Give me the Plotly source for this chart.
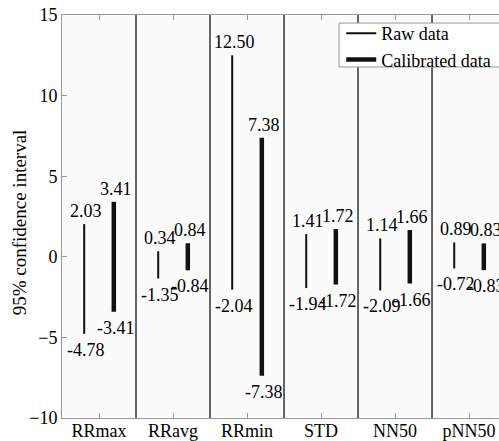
import plotly.graph_objects as go

categories = ["RRmax", "RRavg", "RRmin", "STD", "NN50", "pNN50"]
raw_upper = [2.03, 0.34, 12.50, 1.41, 1.14, 0.89]
raw_lower = [-4.78, -1.35, -2.04, -1.94, -2.09, -0.72]
cal_upper = [3.41, 0.84, 7.38, 1.72, 1.66, 0.83]
cal_lower = [-3.41, -0.84, -7.38, -1.72, -1.66, -0.83]
y_ticks = [-10, -5, 0, 5, 10, 15]
y_title = "95% confidence interval"

FONT = "Liberation Serif"
OFF = 0.2
pos = list(range(1, len(categories) + 1))


def seg(offset, lo, hi):
    xs, ys = [], []
    for p, a, b in zip(pos, lo, hi):
        xs += [p + offset, p + offset, None]
        ys += [a, b, None]
    return xs, ys


fig = go.Figure()
xr, yr = seg(-OFF, raw_lower, raw_upper)
xc, yc = seg(OFF, cal_lower, cal_upper)
fig.add_trace(go.Scatter(x=xr, y=yr, mode="lines", name="Raw data",
                         line=dict(color="#111111", width=2)))
fig.add_trace(go.Scatter(x=xc, y=yc, mode="lines", name="Calibrated data",
                         line=dict(color="#111111", width=4.5)))

ann = []
for offset, lo, hi in ((-OFF, raw_lower, raw_upper), (OFF, cal_lower, cal_upper)):
    for p, a, b in zip(pos, lo, hi):
        ann.append(dict(x=p + offset, y=b, text=f"{b:.2f}", showarrow=False,
                        xanchor="center", yanchor="middle", xshift=2, yshift=13,
                        font=dict(family=FONT, size=18, color="black")))
        ann.append(dict(x=p + offset, y=a, text=f"{a:.2f}", showarrow=False,
                        xanchor="center", yanchor="middle", xshift=2, yshift=-16,
                        font=dict(family=FONT, size=18, color="black")))
# y-axis title
ann.append(dict(x=-0.098, y=0.486, xref="paper", yref="paper", text=y_title,
                textangle=-90, showarrow=False, xanchor="center", yanchor="middle",
                font=dict(family=FONT, size=19, color="black")))

shapes = []
for k in range(1, len(categories)):
    shapes.append(dict(type="line", xref="x", yref="paper", x0=k + 0.5, x1=k + 0.5,
                       y0=0, y1=1, line=dict(color="#333333", width=1.5)))
# legend box
shapes.append(dict(type="rect", xref="paper", yref="paper", x0=0.634, x1=1.06,
                   y0=0.871, y1=0.980, fillcolor="white",
                   line=dict(color="#999999", width=1), layer="above"))

fig.update_layout(
    width=499, height=441,
    margin=dict(l=62, r=0, t=15, b=23, autoexpand=False),
    paper_bgcolor="white", plot_bgcolor="#fbfbfb",
    font=dict(family=FONT, size=18, color="black"),
    annotations=ann, shapes=shapes,
    showlegend=True,
    legend=dict(x=0.639, y=1.0, xanchor="left", yanchor="top",
                bgcolor="rgba(0,0,0,0)", borderwidth=0,
                font=dict(family=FONT, size=18, color="black"),
                tracegroupgap=0),
    xaxis=dict(range=[0.5, 6.405], tickvals=pos, ticktext=categories,
               ticks="inside", ticklen=5, tickcolor="#999999",
               showline=True, linecolor="#999999", linewidth=1, mirror="ticks",
               showgrid=False, zeroline=False, automargin=False,
               ticklabelstandoff=-4,
               tickfont=dict(family=FONT, size=18, color="black")),
    yaxis=dict(range=[-10, 15], tickvals=y_ticks,
               ticks="inside", ticklen=5, tickcolor="#999999",
               showline=True, linecolor="#999999", linewidth=1,
               showgrid=False, zeroline=False, automargin=False,
               tickfont=dict(family=FONT, size=18, color="black")),
)

fig.write_html("out.html", config={"displayModeBar": False},
               post_script="document.body.style.margin='0';document.body.style.overflow='hidden';")
